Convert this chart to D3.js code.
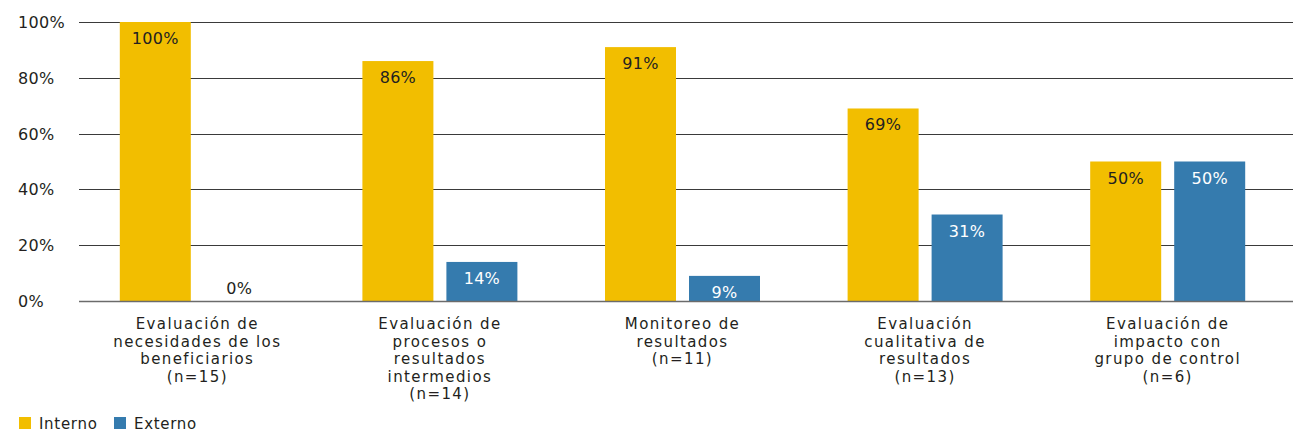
<!DOCTYPE html>
<html>
<head>
<meta charset="utf-8">
<script src="https://cdn.jsdelivr.net/npm/d3@7"></script>
<style>
  html, body { margin: 0; padding: 0; background: #fff; }
  svg { display: block; font-family: "DejaVu Sans", "Noto Sans", sans-serif; }
</style>
</head>
<body>
<svg id="chart" width="1293" height="433"></svg>
<script>
// Evaluation types (each label split into its display lines)
const categories = [
  ["Evaluación de", "necesidades de los", "beneficiarios", "(n=15)"],
  ["Evaluación de", "procesos o", "resultados", "intermedios", "(n=14)"],
  ["Monitoreo de", "resultados", "(n=11)"],
  ["Evaluación", "cualitativa de", "resultados", "(n=13)"],
  ["Evaluación de", "impacto con", "grupo de control", "(n=6)"]
];
const seriesNames = ["Interno", "Externo"];
const interno = [100, 86, 91, 69, 50];
const externo = [0, 14, 9, 31, 50];
const yTicks = [0, 20, 40, 60, 80, 100];

const colors = { Interno: "#F2BE00", Externo: "#357BAE" };
const labelColors = { Interno: "#231F20", Externo: "#FFFFFF" };

const svg = d3.select("#chart");
const gridLeft = 79, gridRight = 1293;
const yTop = 22, yBottom = 301;

const y = d3.scaleLinear().domain([0, 100]).range([yBottom, yTop]);

const x0 = d3.scaleBand()
  .domain(d3.range(categories.length))
  .range([76, 1289]);

const x1 = d3.scaleBand()
  .domain(seriesNames)
  .range([0, 155])
  .paddingInner(13 / 84);

// horizontal gridlines
svg.append("g")
  .selectAll("line")
  .data(yTicks.filter(d => d > 0))
  .join("line")
  .attr("x1", gridLeft).attr("x2", gridRight)
  .attr("y1", d => Math.round(y(d)) + 0.5)
  .attr("y2", d => Math.round(y(d)) + 0.5)
  .attr("stroke", "#3a3a3a")
  .attr("stroke-width", 1);

// y tick labels
svg.append("g")
  .selectAll("text")
  .data(yTicks)
  .join("text")
  .attr("x", 18)
  .attr("y", d => y(d) + 6)
  .attr("font-size", 16)
  .attr("letter-spacing", 0.3)
  .attr("fill", "#231F20")
  .text(d => d + "%");

const rows = categories.map((c, i) => ({ i, values: [
  { key: "Interno", value: interno[i] },
  { key: "Externo", value: externo[i] }
]}));

const groups = svg.append("g")
  .selectAll("g")
  .data(rows)
  .join("g")
  .attr("transform", d => `translate(${x0(d.i) + x0.bandwidth() / 2 - 77.5},0)`);

groups.selectAll("rect")
  .data(d => d.values)
  .join("rect")
  .attr("x", d => x1(d.key))
  .attr("width", x1.bandwidth())
  .attr("y", d => y(d.value))
  .attr("height", d => y(0) - y(d.value))
  .attr("fill", d => colors[d.key]);

groups.selectAll("text.val")
  .data(d => d.values)
  .join("text")
  .attr("class", "val")
  .attr("x", d => x1(d.key) + x1.bandwidth() / 2)
  .attr("y", d => (y(0) - y(d.value) < 20) ? y(d.value) - 7 : y(d.value) + 22)
  .attr("text-anchor", "middle")
  .attr("font-size", 16)
  .attr("letter-spacing", 0.3)
  .attr("fill", d => (y(0) - y(d.value) < 20) ? "#231F20" : labelColors[d.key])
  .text(d => d.value + "%");

// baseline
svg.append("line")
  .attr("x1", gridLeft).attr("x2", gridRight)
  .attr("y1", yBottom + 0.5).attr("y2", yBottom + 0.5)
  .attr("stroke", "#6b6b6b")
  .attr("stroke-width", 1.6);

// category labels
const catLabels = svg.append("g")
  .selectAll("text")
  .data(categories.map((lines, i) => ({ lines, i })))
  .join("text")
  .attr("text-anchor", "middle")
  .attr("font-size", 15)
  .attr("letter-spacing", 1.4)
  .attr("fill", "#231F20")
  .attr("transform", d => `translate(${x0(d.i) + x0.bandwidth() / 2},0)`);

catLabels.selectAll("tspan")
  .data(d => d.lines)
  .join("tspan")
  .attr("x", 0)
  .attr("y", (d, j) => 329 + j * 17.5)
  .text(d => d);

// legend
const legend = svg.append("g")
  .selectAll("g")
  .data(seriesNames)
  .join("g")
  .attr("transform", (d, i) => `translate(${[19, 114][i]},417)`);

legend.append("rect")
  .attr("width", 12).attr("height", 12)
  .attr("fill", d => colors[d]);

legend.append("text")
  .attr("x", 20).attr("y", 12)
  .attr("font-size", 15)
  .attr("letter-spacing", 0.7)
  .attr("fill", "#231F20")
  .text(d => d);
</script>
</body>
</html>
